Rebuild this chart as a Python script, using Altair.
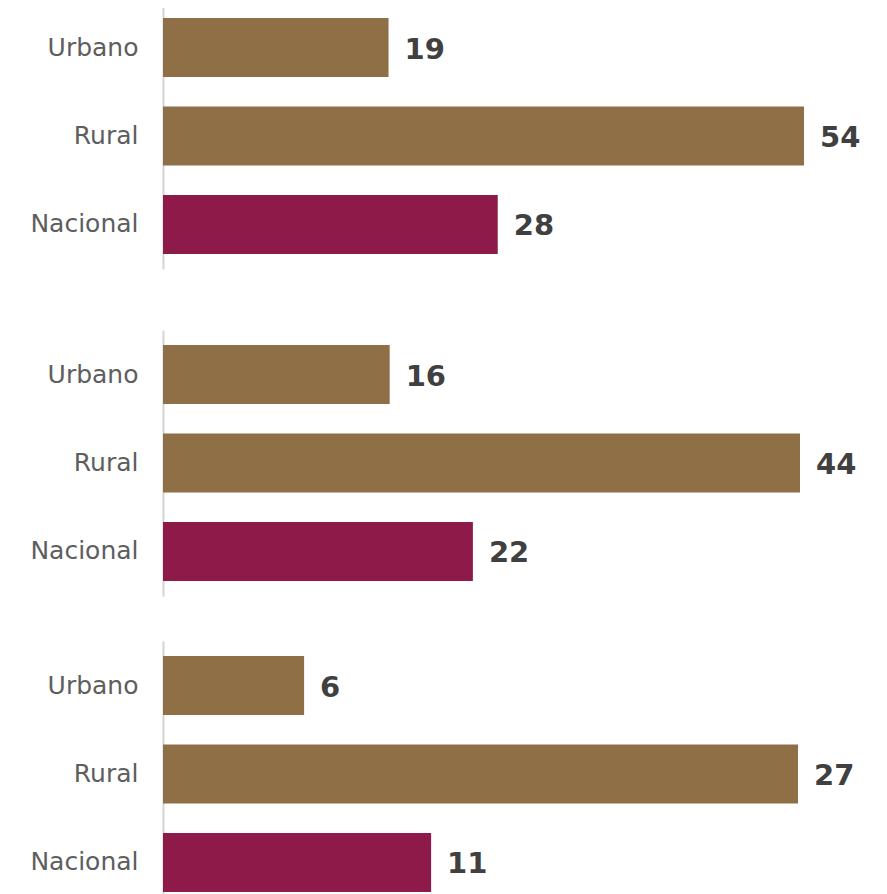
import altair as alt
import pandas as pd

categories = ["Urbano", "Rural", "Nacional"]
panel_1 = [19.0, 54.0, 28.2]
panel_2 = [15.8, 44.4, 21.6]
panel_3 = [6.0, 27.0, 11.4]

BROWN = "#8f6f45"
MAROON = "#8e1a4a"
LABEL_FONT = "DejaVu Sans"


def panel(values, width):
    df = pd.DataFrame({"cat": categories, "val": values})
    base = alt.Chart(df).encode(
        y=alt.Y(
            "cat:N",
            sort=categories,
            scale=alt.Scale(paddingInner=0.333, paddingOuter=0.17),
            axis=alt.Axis(
                title=None,
                ticks=False,
                grid=False,
                domainColor="#d4d4d4",
                domainWidth=2,
                labelFont=LABEL_FONT,
                labelFontSize=25,
                labelColor="#5e5e5e",
                labelPadding=25,
                minExtent=150,
                maxExtent=150,
            ),
        ),
        x=alt.X("val:Q", scale=alt.Scale(nice=False, zero=True), axis=None),
    )
    bars = base.mark_bar().encode(
        color=alt.Color(
            "cat:N",
            scale=alt.Scale(domain=categories, range=[BROWN, BROWN, MAROON]),
            legend=None,
        )
    )
    text = base.mark_text(
        align="left",
        baseline="middle",
        dx=16,
        dy=2,
        font=LABEL_FONT,
        fontWeight="bold",
        fontSize=29,
        color="#404040",
    ).encode(text=alt.Text("val:Q", format=".0f"))
    return alt.layer(bars, text).properties(width=width, height=266)


top = alt.vconcat(panel(panel_1, 641), panel(panel_2, 637), spacing=61)
chart = (
    alt.vconcat(top, panel(panel_3, 635), spacing=45)
    .properties(padding={"top": -5, "left": 5, "right": 5, "bottom": 5})
    .configure_view(stroke=None)
)

chart.save("out.html", embed_options={"renderer": "svg", "actions": False})
